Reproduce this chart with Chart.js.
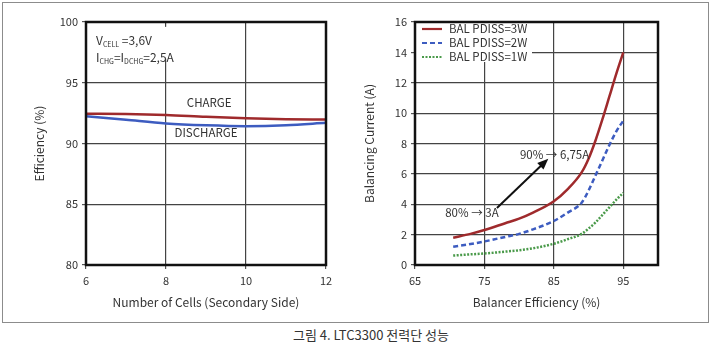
<!DOCTYPE html>
<html>
<head>
<meta charset="utf-8">
<script src="https://cdn.jsdelivr.net/npm/chart.js@4.4.1/dist/chart.umd.min.js"></script>
<style>
  body { margin: 0; background: #fff; width: 711px; height: 350px; position: relative; overflow: hidden; font-family: 'Noto Sans CJK KR', sans-serif; }
  #moldura { position: absolute; left: 2px; top: 2px; width: 705px; height: 319px; border: 1px solid #8c8c8c; }
  #grafico1 { position: absolute; left: 0; top: 0; }
  #grafico2 { position: absolute; left: 360px; top: 0; }
  #legenda { position: absolute; left: 271px; top: 326px; width: 200px; text-align: center; font-size: 13px; line-height: 18px; color: #333; }
</style>
</head>
<body>
<div id="moldura"></div>
<canvas id="grafico1" width="360" height="322"></canvas>
<canvas id="grafico2" width="350" height="322"></canvas>
<div id="legenda">그림 4. LTC3300 전력단 성능</div>
<script>
// grafico da esquerda: eficiencia x numero de celulas
var celulas = [6, 7, 8, 9, 10, 11, 12];
var carga = [92.45, 92.43, 92.35, 92.2, 92.08, 92.0, 91.98];
var descarga = [92.25, 91.95, 91.65, 91.5, 91.43, 91.5, 91.7];
var ticksCelulas = [6, 8, 10, 12];
var ticksEficiencia = [80, 85, 90, 95, 100];

// grafico da direita: corrente x eficiencia do balanceador
var eficiencia = [70.5, 73, 75, 78, 80, 82, 85, 87, 89, 90, 91, 92, 93, 94, 95];
var corrente3W = [1.8, 2.05, 2.3, 2.75, 3.05, 3.45, 4.2, 5.0, 6.1, 7.0, 8.2, 9.6, 11.1, 12.6, 14.0];
var corrente2W = [1.2, 1.38, 1.55, 1.85, 2.05, 2.35, 2.9, 3.45, 4.1, 4.9, 5.9, 6.9, 7.9, 8.8, 9.5];
var corrente1W = [0.62, 0.7, 0.76, 0.88, 0.97, 1.1, 1.4, 1.7, 2.05, 2.4, 2.8, 3.3, 3.8, 4.3, 4.75];
var ticksBalanceador = [65, 75, 85, 95];
var ticksCorrente = [0, 2, 4, 6, 8, 10, 12, 14, 16];

var VERMELHO = '#9f2a2c';
var AZUL = '#3d5cc0';
var VERDE = '#4a9a4a';
var FONTE = "'Noto Sans CJK KR', sans-serif";
var TEXTO = '#333';

function pares(xs, ys) {
  return xs.map(function(x, i) { return { x: x, y: ys[i] }; });
}

// texto com subscrito: partes = [[texto, subscrito?], ...]
function textoSub(ctx, partes, x, y) {
  partes.forEach(function(p) {
    if (p[1]) {
      ctx.font = '7px ' + FONTE;
      ctx.fillText(p[0], x, y + 2);
    } else {
      ctx.font = '12px ' + FONTE;
      ctx.fillText(p[0], x, y);
    }
    x += ctx.measureText(p[0]).width;
  });
}

var borda = {
  id: 'borda',
  afterDraw: function(chart) {
    var a = chart.chartArea, ctx = chart.ctx;
    ctx.save();
    ctx.strokeStyle = '#111';
    ctx.lineWidth = 2.5;
    ctx.strokeRect(a.left, a.top, a.right - a.left, a.bottom - a.top);
    ctx.restore();
  }
};

function eixos(xmin, xmax, xticks, xtitulo, ymin, ymax, yticks, ytitulo, ylargura, ypad) {
  var grade = { color: '#444', lineWidth: 1.2, tickLength: 4, tickColor: '#555' };
  return {
    x: {
      type: 'linear', min: xmin, max: xmax,
      afterBuildTicks: function(s) { s.ticks = xticks.map(function(v) { return { value: v }; }); },
      afterFit: function(s) { s.height = 57; },
      grid: grade,
      border: { display: false },
      ticks: { color: TEXTO, font: { family: FONTE, size: 11 }, padding: 5 },
      title: { display: true, text: xtitulo, color: TEXTO, font: { family: FONTE, size: 12 }, padding: { top: 12, bottom: 12 } }
    },
    y: {
      type: 'linear', min: ymin, max: ymax,
      afterBuildTicks: function(s) { s.ticks = yticks.map(function(v) { return { value: v }; }); },
      afterFit: function(s) { s.width = ylargura; },
      grid: grade,
      border: { display: false },
      ticks: { color: TEXTO, font: { family: FONTE, size: 11 }, padding: 4 },
      title: { display: true, text: ytitulo, color: TEXTO, font: { family: FONTE, size: 12 }, padding: { top: ypad, bottom: ypad } }
    }
  };
}

var notasEsquerda = {
  id: 'notasEsquerda',
  beforeDatasetsDraw: function(chart) {
    var ctx = chart.ctx, sx = chart.scales.x, sy = chart.scales.y;
    ctx.save();
    ctx.fillStyle = '#fff';
    ctx.fillRect(sx.getPixelForValue(6) + 3, sy.getPixelForValue(99.6), 80, 32);
    ctx.fillStyle = TEXTO;
    ctx.textBaseline = 'alphabetic';
    var x0 = sx.getPixelForValue(6) + 10;
    textoSub(ctx, [['V', false], ['CELL', true], [' =3,6V', false]], x0, sy.getPixelForValue(98.1));
    textoSub(ctx, [['I', false], ['CHG', true], ['=I', false], ['DCHG', true], ['=2,5A', false]], x0, sy.getPixelForValue(96.7));
    ctx.font = '11.5px ' + FONTE;
    ctx.textAlign = 'center';
    ctx.textBaseline = 'middle';
    ctx.fillText('CHARGE', sx.getPixelForValue(9.08), sy.getPixelForValue(93.33));
    ctx.fillText('DISCHARGE', sx.getPixelForValue(9.0), sy.getPixelForValue(90.86));
    ctx.restore();
  }
};

var series = [
  { nome: 'BAL PDISS=3W', cor: VERMELHO, traco: [] },
  { nome: 'BAL PDISS=2W', cor: AZUL, traco: [5, 3] },
  { nome: 'BAL PDISS=1W', cor: VERDE, traco: [2, 1.5] }
];

var notasDireita = {
  id: 'notasDireita',
  beforeDatasetsDraw: function(chart) {
    var ctx = chart.ctx;
    var a = chart.chartArea;
    ctx.save();
    // caixa da legenda
    ctx.fillStyle = '#fff';
    ctx.fillRect(a.left, a.top, 117, 40);
    ctx.font = '11.5px ' + FONTE;
    ctx.textBaseline = 'middle';
    series.forEach(function(s, i) {
      var y = a.top + 7 + i * 14;
      ctx.strokeStyle = s.cor;
      ctx.lineWidth = 2.2;
      ctx.setLineDash(s.traco);
      ctx.beginPath();
      ctx.moveTo(a.left + 7, y);
      ctx.lineTo(a.left + 27, y);
      ctx.stroke();
      ctx.setLineDash([]);
      ctx.fillStyle = TEXTO;
      ctx.fillText(s.nome, a.left + 34, y);
    });
    ctx.restore();
  },
  afterDatasetsDraw: function(chart) {
    var ctx = chart.ctx, sx = chart.scales.x, sy = chart.scales.y;
    ctx.save();
    var x1 = sx.getPixelForValue(76.8), y1 = sy.getPixelForValue(3.75);
    var x2 = sx.getPixelForValue(84.2), y2 = sy.getPixelForValue(7.0);
    var ang = Math.atan2(y2 - y1, x2 - x1);
    ctx.strokeStyle = '#111';
    ctx.fillStyle = '#111';
    ctx.lineWidth = 2;
    ctx.beginPath();
    ctx.moveTo(x1, y1);
    ctx.lineTo(x2 - 8 * Math.cos(ang), y2 - 8 * Math.sin(ang));
    ctx.stroke();
    ctx.beginPath();
    ctx.moveTo(x2, y2);
    ctx.lineTo(x2 - 11 * Math.cos(ang) + 4.5 * Math.sin(ang), y2 - 11 * Math.sin(ang) - 4.5 * Math.cos(ang));
    ctx.lineTo(x2 - 11 * Math.cos(ang) - 4.5 * Math.sin(ang), y2 - 11 * Math.sin(ang) + 4.5 * Math.cos(ang));
    ctx.closePath();
    ctx.fill();
    ctx.fillStyle = TEXTO;
    ctx.font = '11.5px ' + FONTE;
    ctx.textAlign = 'center';
    ctx.textBaseline = 'middle';
    ctx.fillText('80% \u2192 3A', sx.getPixelForValue(73.2), sy.getPixelForValue(3.42));
    ctx.fillText('90% \u2192 6,75A', sx.getPixelForValue(85.1), sy.getPixelForValue(7.3));
    ctx.restore();
  }
};

var linha = { pointRadius: 0, borderWidth: 2.5, tension: 0.4, cubicInterpolationMode: 'monotone', fill: false };

new Chart(document.getElementById('grafico1').getContext('2d'), {
  type: 'line',
  data: {
    datasets: [
      Object.assign({ label: 'CHARGE', data: pares(celulas, carga), borderColor: VERMELHO }, linha),
      Object.assign({ label: 'DISCHARGE', data: pares(celulas, descarga), borderColor: AZUL }, linha)
    ]
  },
  options: {
    responsive: false,
    animation: false,
    layout: { padding: { left: 0, top: 22, right: 34, bottom: 0 } },
    plugins: { legend: { display: false }, tooltip: { enabled: false } },
    scales: eixos(6, 12, ticksCelulas, 'Number of Cells (Secondary Side)', 80, 100, ticksEficiencia, 'Efficiency (%)', 86, 32)
  },
  plugins: [notasEsquerda, borda]
});

new Chart(document.getElementById('grafico2').getContext('2d'), {
  type: 'line',
  data: {
    datasets: [
      Object.assign({ label: series[0].nome, data: pares(eficiencia, corrente3W), borderColor: VERMELHO }, linha),
      Object.assign({ label: series[1].nome, data: pares(eficiencia, corrente2W), borderColor: AZUL, borderDash: series[1].traco }, linha),
      Object.assign({ label: series[2].nome, data: pares(eficiencia, corrente1W), borderColor: VERDE, borderDash: series[2].traco }, linha)
    ]
  },
  options: {
    responsive: false,
    animation: false,
    layout: { padding: { left: 0, top: 22, right: 52, bottom: 0 } },
    plugins: { legend: { display: false }, tooltip: { enabled: false } },
    scales: eixos(65, 100, ticksBalanceador, 'Balancer Efficiency (%)', 0, 16, ticksCorrente, 'Balancing Current (A)', 55, 2)
  },
  plugins: [notasDireita, borda]
});
</script>
</body>
</html>
